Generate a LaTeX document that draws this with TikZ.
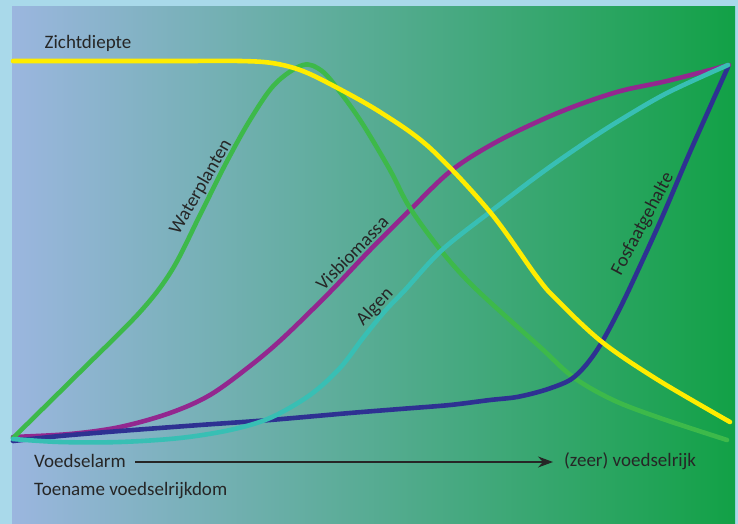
\documentclass[tikz,border=0pt]{standalone}
\usepackage{fontspec}
\setmainfont{Carlito}
\usetikzlibrary{arrows.meta}
\definecolor{frame}{HTML}{A9D9EA}
\definecolor{bgleft}{HTML}{9BB6DF}
\definecolor{bgmid}{HTML}{6EAC98}
\definecolor{bgright}{HTML}{12A146}
\definecolor{cyellow}{HTML}{FFEC00}
\definecolor{cgreen}{HTML}{3DB94A}
\definecolor{cmag}{HTML}{93278F}
\definecolor{ccyan}{HTML}{38BFB4}
\definecolor{cblue}{HTML}{2E3192}
\definecolor{txt}{HTML}{262626}
\tikzset{
  curve/.style={line width=4.6pt, line cap=round, line join=round},
  lbl/.style={text=txt, font=\fontsize{19}{21}\selectfont, inner sep=0pt},
}
\begin{document}
\begin{tikzpicture}[x=1pt,y=-1pt]
\useasboundingbox (0,0) rectangle (738,524);
\fill[frame] (0,0) rectangle (738,524);
\shade[left color=bgleft, middle color=bgmid, right color=bgright] (12,7) rectangle (735,524);

% Visbiomassa
\draw[curve, cmag] plot[smooth, tension=0.55] coordinates {(13,437) (70,434) (120,427) (170,413) (210,395) (250,366) (283,338) (330,292) (370,250) (410,210) (452,170) (500,140) (560,112) (617,92) (667,81) (729,65)};
% Waterplanten
\draw[curve, cgreen] plot[smooth, tension=0.55] coordinates {(13,438) (80,372) (140,312) (172,270) (200,215) (225,165) (250,120) (275,84) (303,65) (322,71) (340,92) (362,123) (390,170) (410,208) (443,253) (477,290) (540,347) (573,377) (613,400) (660,418) (727,440)};
% Fosfaatgehalte
\draw[curve, cblue] plot[smooth, tension=0.5] coordinates {(13,441) (60,436) (120,431) (200,425) (270,420) (350,413) (400,409) (450,405) (490,400) (517,397) (545,390) (570,380) (586,365) (602,342) (625,298) (660,222) (690,152) (728,67)};
% Algen
\draw[curve, ccyan] plot[smooth, tension=0.55] coordinates {(13,439) (60,442) (120,442) (180,438) (230,430) (270,418) (310,395) (340,368) (363,338) (385,311) (405,290) (442,250) (490,212) (540,174) (580,146) (617,122) (667,93) (728,65)};
% Zichtdiepte
\draw[curve, cyellow] plot[smooth, tension=0.55] coordinates {(13,61) (100,61) (180,61) (240,61) (272,63) (300,70) (330,84) (380,112) (430,148) (490,212) (537,277) (557,300) (602,342) (658,380) (730,422)};

\node[lbl] (zicht) at (88,43) {Zichtdiepte};
\node[lbl, rotate=60] (water) at (201,187) {Waterplanten};
\node[lbl, rotate=46] (vis) at (352,253) {Visbiomassa};
\node[lbl, rotate=46] (algen) at (375,307) {Algen};
\node[lbl, rotate=62] (fosfaat) at (643,224) {Fosfaatgehalte};

\node[lbl, anchor=west] (arm) at (34,461) {Voedselarm};
\node[lbl, anchor=west] (rijk) at (564,461) {(zeer) voedselrijk};
\node[lbl, anchor=west] (toename) at (34,491) {Toename voedselrijkdom};
\coordinate (a1) at (135,462);
\coordinate (a2) at (553,462);
\draw[line width=1.2pt, txt, -{Stealth[length=15pt,width=11pt]}] (a1) -- (a2);
\end{tikzpicture}
\end{document}
